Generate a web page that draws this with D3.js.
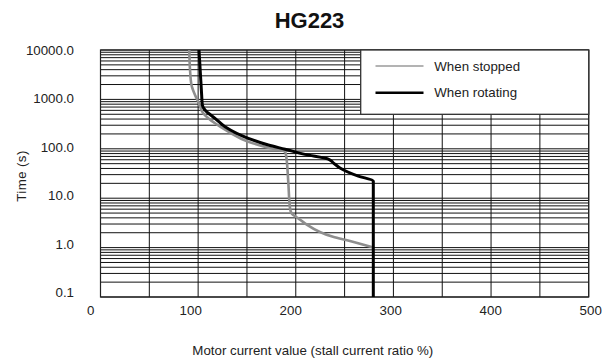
<!DOCTYPE html>
<html>
<head>
<meta charset="utf-8">
<script src="https://cdn.jsdelivr.net/npm/d3@7"></script>
<style>
  html, body { margin: 0; padding: 0; background: #fff; }
  svg { display: block; font-family: "Liberation Sans", Arial, sans-serif; }
</style>
</head>
<body>
<svg id="chart" width="612" height="363"></svg>
<script>
// ---- data ----
const title = "HG223";
const xTickValues = [0, 100, 200, 300, 400, 500];
const yTickValues = [0.1, 1, 10, 100, 1000, 10000];
const seriesNames = ["When stopped", "When rotating"];
// When stopped: [current %, time s]
const stoppedX = [90.9, 91.7, 93.2, 96.8, 100.2, 105.3, 117.3, 130.9, 151.4, 171.9, 189.0, 190.0, 192.3, 194.1, 195.8, 202.6, 209.4, 238.1, 255.5, 279.4];
const stoppedY = [10000, 3940, 1950, 1228, 897, 523, 328, 222, 139, 105, 87, 75, 21.6, 6.25, 4.9, 3.9, 3.1, 1.66, 1.36, 1.0];
// When rotating
const rotatingX = [100.9, 102.4, 103.6, 104.3, 107.0, 117.3, 127.5, 151.4, 171.9, 189.0, 209.4, 233.3, 238.4, 245.3, 264.0, 279.4, 279.4];
const rotatingY = [10000, 3120, 1228, 771, 610, 414, 280, 163, 119, 98, 77, 62, 52, 41, 28, 22.3, 0.1];

// ---- layout ----
const svg = d3.select("#chart");
const P = { left: 100.5, top: 50, right: 588.7, bottom: 297 };

const x = d3.scaleLinear().domain([0, 500]).range([P.left, P.right]);
const y = d3.scaleLog().domain([0.1, 10000]).range([P.bottom, P.top]);
// label scales (labels in the reference are slightly offset from the grid)
const xLab = d3.scaleLinear().domain([0, 500]).range([90.7, 590.7]);
const yLab = d3.scaleLog().domain([0.1, 10000]).range([292.7, 50]);

// grid: vertical every 50
const g = svg.append("g");
g.selectAll("line.v").data(d3.range(0, 501, 50)).join("line")
  .attr("x1", d => x(d)).attr("x2", d => x(d))
  .attr("y1", P.top).attr("y2", P.bottom)
  .attr("stroke", "#111").attr("stroke-width", 1);

// grid: horizontal log minor lines
const hLines = [];
for (let e = -1; e < 4; e++) {
  for (let k = 1; k <= 9; k++) hLines.push(k * Math.pow(10, e));
}
hLines.push(10000);
g.selectAll("line.h").data(hLines).join("line")
  .attr("x1", P.left).attr("x2", P.right)
  .attr("y1", d => y(d)).attr("y2", d => y(d))
  .attr("stroke", "#111").attr("stroke-width", 1);

// plot border
svg.append("rect")
  .attr("x", P.left).attr("y", P.top)
  .attr("width", P.right - P.left).attr("height", P.bottom - P.top)
  .attr("fill", "none").attr("stroke", "#222").attr("stroke-width", 1.2);

// curves
const line = d3.line().x(d => x(d[0])).y(d => y(d[1])).curve(d3.curveMonotoneY);
const stopped = stoppedX.map((v, i) => [v, stoppedY[i]]);
const rotating = rotatingX.map((v, i) => [v, rotatingY[i]]);
svg.append("path").datum(stopped).attr("d", line)
  .attr("fill", "none").attr("stroke", "#8e8e8e").attr("stroke-width", 2.6);
svg.append("path").datum(rotating).attr("d", line)
  .attr("fill", "none").attr("stroke", "#000").attr("stroke-width", 3);

// axes labels
svg.append("g").selectAll("text").data(xTickValues).join("text")
  .attr("x", d => xLab(d)).attr("y", 314.5)
  .attr("text-anchor", "middle").attr("font-size", 13.3).attr("fill", "#222")
  .text(d => d);
const yFmt = d3.format(".1f");
svg.append("g").selectAll("text").data(yTickValues).join("text")
  .attr("x", 74).attr("y", d => yLab(d)).attr("dy", "0.35em")
  .attr("text-anchor", "end").attr("font-size", 13.3).attr("fill", "#222")
  .text(d => yFmt(d));

// titles
svg.append("text").attr("x", 309.5).attr("y", 27.5)
  .attr("text-anchor", "middle").attr("font-size", 22).attr("font-weight", "bold")
  .attr("fill", "#111").text(title);
svg.append("text").attr("x", 312.8).attr("y", 355)
  .attr("text-anchor", "middle").attr("font-size", 13.3).attr("fill", "#222")
  .text("Motor current value (stall current ratio %)");
svg.append("text")
  .attr("transform", "translate(25.5,176) rotate(-90)")
  .attr("text-anchor", "middle").attr("font-size", 13.3).attr("fill", "#222")
  .attr("letter-spacing", 0.4)
  .text("Time (s)");

// legend
const lg = svg.append("g");
lg.append("rect").attr("x", 360.7).attr("y", 50).attr("width", 228).attr("height", 64.3)
  .attr("fill", "#fff").attr("stroke", "#333").attr("stroke-width", 1.3);
const legendStyles = [
  { stroke: "#9a9a9a", width: 1.6 },
  { stroke: "#000", width: 2.6 }
];
const ly = d3.scalePoint().domain(seriesNames).range([66, 92.7]);
seriesNames.forEach((name, i) => {
  lg.append("line").attr("x1", 375.5).attr("x2", 423.5)
    .attr("y1", ly(name)).attr("y2", ly(name))
    .attr("stroke", legendStyles[i].stroke).attr("stroke-width", legendStyles[i].width);
  lg.append("text").attr("x", 434.3).attr("y", ly(name)).attr("dy", "0.35em")
    .attr("font-size", 13.3).attr("fill", "#222").text(name);
});
</script>
</body>
</html>
